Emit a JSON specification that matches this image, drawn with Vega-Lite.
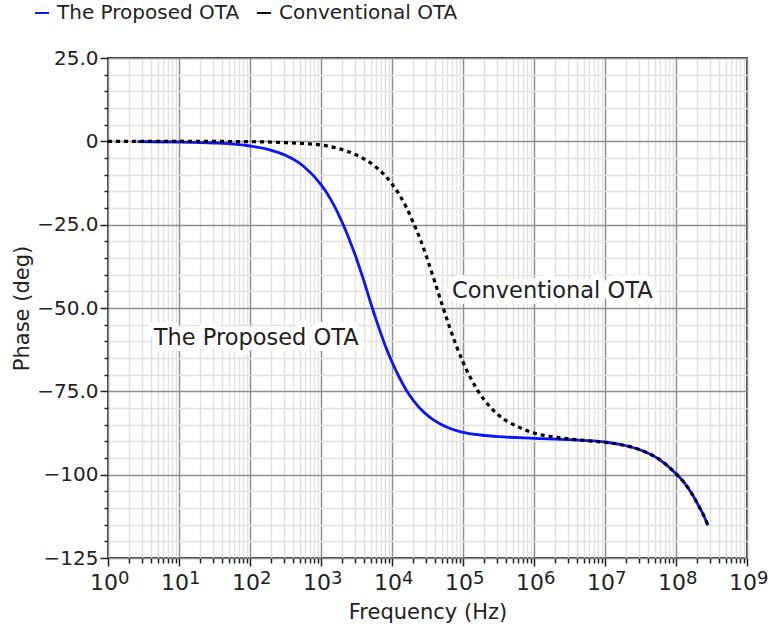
{
  "$schema": "https://vega.github.io/schema/vega-lite/v6.json",
  "width": 639,
  "height": 500,
  "autosize": {"type": "none"},
  "padding": {"left": 108, "top": 58, "right": 25, "bottom": 74},
  "background": "white",
  "config": {
    "font": "DejaVu Sans",
    "view": {"stroke": "#3a3a3a", "strokeWidth": 2},
    "axis": {"labelFont": "DejaVu Sans", "titleFont": "DejaVu Sans", "labelColor": "#222", "titleColor": "#222", "titleFontWeight": "normal"}
  },
  "datasets": {
    "phase": [
      {"series": "The Proposed OTA", "f": 2.6, "phase": -0.1},
      {"series": "The Proposed OTA", "f": 10, "phase": -0.2},
      {"series": "The Proposed OTA", "f": 31.6, "phase": -0.5},
      {"series": "The Proposed OTA", "f": 100, "phase": -1.4},
      {"series": "The Proposed OTA", "f": 178, "phase": -2.4},
      {"series": "The Proposed OTA", "f": 316, "phase": -4.2},
      {"series": "The Proposed OTA", "f": 562, "phase": -7.4},
      {"series": "The Proposed OTA", "f": 1000, "phase": -13.0},
      {"series": "The Proposed OTA", "f": 1259, "phase": -16.1},
      {"series": "The Proposed OTA", "f": 1585, "phase": -19.9},
      {"series": "The Proposed OTA", "f": 1995, "phase": -24.4},
      {"series": "The Proposed OTA", "f": 2512, "phase": -29.5},
      {"series": "The Proposed OTA", "f": 3162, "phase": -35.2},
      {"series": "The Proposed OTA", "f": 3981, "phase": -41.6},
      {"series": "The Proposed OTA", "f": 5012, "phase": -48.5},
      {"series": "The Proposed OTA", "f": 6310, "phase": -55.0},
      {"series": "The Proposed OTA", "f": 7943, "phase": -61.0},
      {"series": "The Proposed OTA", "f": 10000, "phase": -66.2},
      {"series": "The Proposed OTA", "f": 12589, "phase": -70.7},
      {"series": "The Proposed OTA", "f": 15849, "phase": -74.6},
      {"series": "The Proposed OTA", "f": 19953, "phase": -77.7},
      {"series": "The Proposed OTA", "f": 25119, "phase": -80.2},
      {"series": "The Proposed OTA", "f": 31623, "phase": -82.2},
      {"series": "The Proposed OTA", "f": 39811, "phase": -83.8},
      {"series": "The Proposed OTA", "f": 63096, "phase": -86.0},
      {"series": "The Proposed OTA", "f": 100000, "phase": -87.3},
      {"series": "The Proposed OTA", "f": 177828, "phase": -88.1},
      {"series": "The Proposed OTA", "f": 316228, "phase": -88.6},
      {"series": "The Proposed OTA", "f": 1000000, "phase": -89.1},
      {"series": "The Proposed OTA", "f": 3162278, "phase": -89.5},
      {"series": "The Proposed OTA", "f": 10000000, "phase": -90.2},
      {"series": "The Proposed OTA", "f": 17782794, "phase": -91.1},
      {"series": "The Proposed OTA", "f": 31622777, "phase": -92.6},
      {"series": "The Proposed OTA", "f": 56234133, "phase": -95.2},
      {"series": "The Proposed OTA", "f": 100000000, "phase": -99.7},
      {"series": "The Proposed OTA", "f": 134896288, "phase": -102.8},
      {"series": "The Proposed OTA", "f": 165958691, "phase": -105.6},
      {"series": "The Proposed OTA", "f": 199526231, "phase": -108.6},
      {"series": "The Proposed OTA", "f": 239883292, "phase": -111.8},
      {"series": "The Proposed OTA", "f": 281838293, "phase": -115.2},
      {"series": "Conventional OTA", "f": 1, "phase": 0.0},
      {"series": "Conventional OTA", "f": 10, "phase": 0.0},
      {"series": "Conventional OTA", "f": 100, "phase": -0.1},
      {"series": "Conventional OTA", "f": 316, "phase": -0.4},
      {"series": "Conventional OTA", "f": 1000, "phase": -1.1},
      {"series": "Conventional OTA", "f": 1778, "phase": -2.2},
      {"series": "Conventional OTA", "f": 3162, "phase": -4.1},
      {"series": "Conventional OTA", "f": 5623, "phase": -7.3},
      {"series": "Conventional OTA", "f": 7943, "phase": -10.2},
      {"series": "Conventional OTA", "f": 10000, "phase": -12.8},
      {"series": "Conventional OTA", "f": 12589, "phase": -15.9},
      {"series": "Conventional OTA", "f": 15849, "phase": -19.7},
      {"series": "Conventional OTA", "f": 19953, "phase": -24.4},
      {"series": "Conventional OTA", "f": 25119, "phase": -29.5},
      {"series": "Conventional OTA", "f": 31623, "phase": -35.5},
      {"series": "Conventional OTA", "f": 39811, "phase": -42.0},
      {"series": "Conventional OTA", "f": 50119, "phase": -48.6},
      {"series": "Conventional OTA", "f": 63096, "phase": -55.0},
      {"series": "Conventional OTA", "f": 79433, "phase": -61.0},
      {"series": "Conventional OTA", "f": 100000, "phase": -66.2},
      {"series": "Conventional OTA", "f": 125893, "phase": -70.7},
      {"series": "Conventional OTA", "f": 158489, "phase": -74.5},
      {"series": "Conventional OTA", "f": 199526, "phase": -77.6},
      {"series": "Conventional OTA", "f": 251189, "phase": -80.1},
      {"series": "Conventional OTA", "f": 316228, "phase": -82.1},
      {"series": "Conventional OTA", "f": 398107, "phase": -83.7},
      {"series": "Conventional OTA", "f": 562341, "phase": -85.4},
      {"series": "Conventional OTA", "f": 1000000, "phase": -87.5},
      {"series": "Conventional OTA", "f": 1778279, "phase": -88.6},
      {"series": "Conventional OTA", "f": 3162278, "phase": -89.3},
      {"series": "Conventional OTA", "f": 5623413, "phase": -89.8},
      {"series": "Conventional OTA", "f": 10000000, "phase": -90.3},
      {"series": "Conventional OTA", "f": 17782794, "phase": -91.1},
      {"series": "Conventional OTA", "f": 31622777, "phase": -92.6},
      {"series": "Conventional OTA", "f": 56234133, "phase": -95.2},
      {"series": "Conventional OTA", "f": 100000000, "phase": -99.7},
      {"series": "Conventional OTA", "f": 134896288, "phase": -102.8},
      {"series": "Conventional OTA", "f": 165958691, "phase": -105.6},
      {"series": "Conventional OTA", "f": 199526231, "phase": -108.6},
      {"series": "Conventional OTA", "f": 239883292, "phase": -111.8},
      {"series": "Conventional OTA", "f": 281838293, "phase": -115.2}
    ],
    "notes": [
      {"f": 70150, "phase": -47.0, "label": "Conventional OTA"},
      {"f": 4.41, "phase": -61.0, "label": "The Proposed OTA"}
    ],
    "decades": [
      {"f": 1, "phase": -125, "base": "10", "exp": "0"},
      {"f": 10, "phase": -125, "base": "10", "exp": "1"},
      {"f": 100, "phase": -125, "base": "10", "exp": "2"},
      {"f": 1000, "phase": -125, "base": "10", "exp": "3"},
      {"f": 10000, "phase": -125, "base": "10", "exp": "4"},
      {"f": 100000, "phase": -125, "base": "10", "exp": "5"},
      {"f": 1000000, "phase": -125, "base": "10", "exp": "6"},
      {"f": 10000000, "phase": -125, "base": "10", "exp": "7"},
      {"f": 100000000, "phase": -125, "base": "10", "exp": "8"},
      {"f": 1000000000, "phase": -125, "base": "10", "exp": "9"}
    ]
  },
  "encoding": {
    "x": {
      "field": "f",
      "type": "quantitative",
      "scale": {"type": "log", "domain": [1, 1000000000], "nice": false},
      "axis": {
        "title": "Frequency (Hz)",
        "values": [1, 2, 3, 4, 5, 6, 7, 8, 9,
          10, 20, 30, 40, 50, 60, 70, 80, 90,
          100, 200, 300, 400, 500, 600, 700, 800, 900,
          1000, 2000, 3000, 4000, 5000, 6000, 7000, 8000, 9000,
          10000, 20000, 30000, 40000, 50000, 60000, 70000, 80000, 90000,
          100000, 200000, 300000, 400000, 500000, 600000, 700000, 800000, 900000,
          1000000, 2000000, 3000000, 4000000, 5000000, 6000000, 7000000, 8000000, 9000000,
          10000000, 20000000, 30000000, 40000000, 50000000, 60000000, 70000000, 80000000, 90000000,
          100000000, 200000000, 300000000, 400000000, 500000000, 600000000, 700000000, 800000000, 900000000,
          1000000000],
        "labels": false,
        "domain": false,
        "grid": true,
        "gridWidth": 1.5,
        "gridColor": {"condition": {"test": "abs(log(datum.value)/LN10 - round(log(datum.value)/LN10)) < 1e-6", "value": "#8f8f8f"}, "value": "#e2e2e2"},
        "tickSize": {"condition": {"test": "abs(log(datum.value)/LN10 - round(log(datum.value)/LN10)) < 1e-6", "value": 8}, "value": 5},
        "tickColor": "#222",
        "tickWidth": 1.5,
        "labelOverlap": false,
        "titleFontSize": 21,
        "titleX": 319.5,
        "titleY": 60,
        "titleAlign": "center",
        "titleBaseline": "alphabetic"
      }
    },
    "y": {
      "field": "phase",
      "type": "quantitative",
      "scale": {"domain": [-125, 25], "nice": false, "zero": false},
      "axis": {
        "title": "Phase (deg)",
        "values": [-125, -120, -115, -110, -105, -100, -95, -90, -85, -80, -75, -70, -65, -60, -55, -50, -45, -40, -35, -30, -25, -20, -15, -10, -5, 0, 5, 10, 15, 20, 25],
        "labelExpr": "datum.value % 25 != 0 ? '' : datum.value == 0 ? '0' : abs(datum.value) >= 100 ? format(datum.value, 'd') : format(datum.value, '.1f')",
        "labelFontSize": 20,
        "labelPadding": 2,
        "labelOverlap": false,
        "labelFlush": false,
        "domain": false,
        "grid": true,
        "gridWidth": 1.5,
        "gridColor": {"condition": {"test": "datum.value % 25 == 0", "value": "#8f8f8f"}, "value": "#e2e2e2"},
        "tickSize": {"condition": {"test": "datum.value % 25 == 0", "value": 8}, "value": 4},
        "tickColor": "#222",
        "tickWidth": 1.5,
        "titleFontSize": 21,
        "titleX": -86,
        "titleY": 250,
        "titleAlign": "center",
        "titleBaseline": "middle"
      }
    }
  },
  "layer": [
    {
      "data": {"name": "phase"},
      "transform": [{"filter": "datum.series == 'The Proposed OTA'"}],
      "mark": {"type": "line", "strokeWidth": 2.8, "interpolate": "monotone"},
      "encoding": {
        "color": {
          "field": "series",
          "type": "nominal",
          "scale": {"domain": ["The Proposed OTA", "Conventional OTA"], "range": ["#0a14ff", "#000000"]},
          "legend": {
            "orient": "none",
            "legendX": -76,
            "legendY": -55,
            "direction": "horizontal",
            "title": null,
            "labelFontSize": 20,
            "labelFont": "DejaVu Sans",
            "labelColor": "#222",
            "labelLimit": 400,
            "symbolType": "stroke",
            "symbolSize": 200,
            "symbolStrokeWidth": 2,
            "labelOffset": 5,
            "columnPadding": 12,
            "encode": {"symbols": {"update": {"strokeDash": {"value": [1, 0]}}}}
          }
        }
      }
    },
    {
      "data": {"name": "phase"},
      "transform": [{"filter": "datum.series == 'Conventional OTA'"}],
      "mark": {"type": "line", "strokeWidth": 3.2, "strokeDash": [4, 4], "strokeCap": "butt", "interpolate": "monotone"},
      "encoding": {"color": {"field": "series", "type": "nominal"}}
    },
    {
      "data": {"name": "notes"},
      "mark": {"type": "text", "align": "left", "baseline": "alphabetic", "fontSize": 22.5, "fill": "white", "stroke": "white", "strokeWidth": 12, "strokeJoin": "round"},
      "encoding": {"text": {"field": "label"}}
    },
    {
      "data": {"name": "notes"},
      "mark": {"type": "text", "align": "left", "baseline": "alphabetic", "fontSize": 22.5, "color": "#222"},
      "encoding": {"text": {"field": "label"}}
    },
    {
      "data": {"name": "decades"},
      "mark": {"type": "text", "align": "right", "baseline": "alphabetic", "fontSize": 22, "dx": 10, "dy": 32, "color": "#222"},
      "encoding": {"text": {"field": "base"}}
    },
    {
      "data": {"name": "decades"},
      "mark": {"type": "text", "align": "left", "baseline": "alphabetic", "fontSize": 18, "dx": 10, "dy": 26, "color": "#222"},
      "encoding": {"text": {"field": "exp"}}
    }
  ]
}
